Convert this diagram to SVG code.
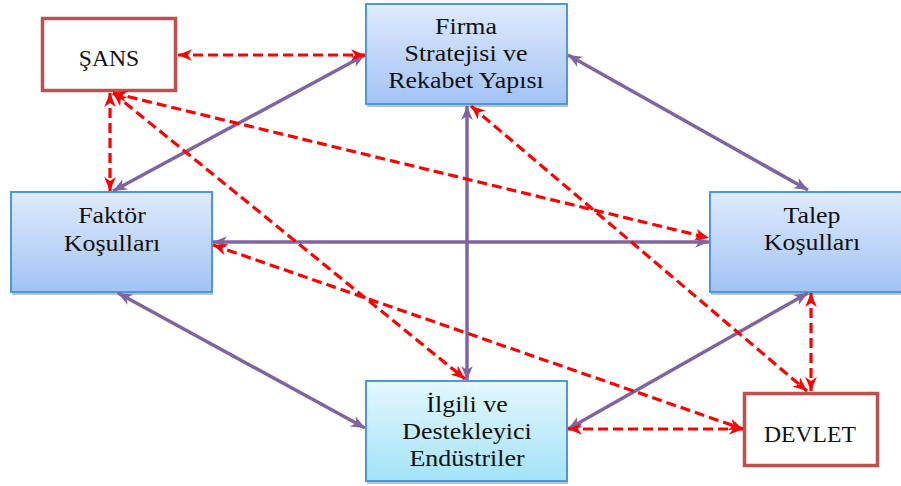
<svg xmlns="http://www.w3.org/2000/svg" width="901" height="486" viewBox="0 0 901 486">
<defs>
<linearGradient id="gBlue" x1="0" y1="0" x2="0" y2="1">
<stop offset="0" stop-color="#dfeafc"/>
<stop offset="1" stop-color="#a2c3f5"/>
</linearGradient>
<linearGradient id="gCyan" x1="0" y1="0" x2="0" y2="1">
<stop offset="0" stop-color="#e4f7fd"/>
<stop offset="1" stop-color="#a3e3f8"/>
</linearGradient>
<marker id="mP" viewBox="0 0 12 10" refX="12" refY="5" markerWidth="14" markerHeight="12" markerUnits="userSpaceOnUse" orient="auto-start-reverse">
<path d="M0,0 L12,5 L0,10 L3.5,5 z" fill="#8064a2"/>
</marker>
<marker id="mR" viewBox="0 0 12 10" refX="12" refY="5" markerWidth="14" markerHeight="12" markerUnits="userSpaceOnUse" orient="auto-start-reverse">
<path d="M0,0 L12,5 L0,10 L3.5,5 z" fill="#ff0000"/>
</marker>
</defs>
<style>
.shadow{fill:#8c8c8c;opacity:0.55}
.blue{fill:url(#gBlue);stroke:#4a9ad8;stroke-width:2}
.cyan{fill:url(#gCyan);stroke:#4a9ad8;stroke-width:2}
.red{fill:#ffffff;stroke:#c0504d;stroke-width:3.5}
.t{font-family:"Liberation Serif","Times New Roman",serif;font-size:24px;fill:#111111;text-anchor:middle;transform-box:fill-box;transform-origin:center;transform:scaleX(1.08)}
.ts{font-family:"Liberation Serif","Times New Roman",serif;font-size:23px;fill:#111111;text-anchor:middle;transform-box:fill-box;transform-origin:center;transform:scaleX(1.03)}
.p{stroke:#8064a2;stroke-width:3.5;fill:none;marker-start:url(#mP);marker-end:url(#mP)}
.r{stroke:#ff0000;stroke-width:3.2;fill:none;stroke-dasharray:10 5;marker-start:url(#mR);marker-end:url(#mR)}
</style>
<rect width="901" height="486" fill="#ffffff"/>

<g id="sans">
<rect class="red" x="42.5" y="18.5" width="133" height="72"/>
<text class="ts" x="109" y="66">ŞANS</text>
</g>

<g id="firma">
<rect class="shadow" x="367" y="7" width="201" height="100"/>
<rect class="blue" x="366" y="4" width="201" height="100"/>
<text class="t" x="466" y="34">Firma</text>
<text class="t" x="466" y="61">Stratejisi ve</text>
<text class="t" x="466" y="88">Rekabet Yapısı</text>
</g>

<g id="faktor">
<rect class="shadow" x="12" y="195" width="201" height="100"/>
<rect class="blue" x="11" y="192" width="201" height="100"/>
<text class="t" x="112" y="223">Faktör</text>
<text class="t" x="112" y="251">Koşulları</text>
</g>

<g id="talep">
<rect class="shadow" x="711" y="195" width="201" height="100"/>
<rect class="blue" x="710" y="192" width="201" height="100"/>
<text class="t" x="812" y="223">Talep</text>
<text class="t" x="812" y="250">Koşulları</text>
</g>

<g id="ilgili">
<rect class="shadow" x="367" y="384" width="201" height="100"/>
<rect class="cyan" x="366" y="381" width="201" height="100"/>
<text class="t" x="467" y="412">İlgili ve</text>
<text class="t" x="467" y="439">Destekleyici</text>
<text class="t" x="467" y="466">Endüstriler</text>
</g>

<g id="devlet">
<rect class="red" x="744.5" y="393.5" width="133" height="72"/>
<text class="ts" x="810" y="442">DEVLET</text>
</g>

<g id="connectors">
<line class="p" x1="113" y1="191" x2="365" y2="55"/>
<line class="p" x1="568" y1="55" x2="808" y2="190"/>
<line class="p" x1="467" y1="106" x2="467" y2="380"/>
<line class="p" x1="213" y1="242" x2="709" y2="242"/>
<line class="p" x1="118" y1="293" x2="365" y2="428"/>
<line class="p" x1="808" y1="293" x2="568" y2="429"/>

<line class="r" x1="178" y1="55" x2="365" y2="55"/>
<line class="r" x1="110" y1="93" x2="110" y2="191"/>
<line class="r" x1="113" y1="93" x2="709" y2="238"/>
<line class="r" x1="113" y1="93" x2="465" y2="379"/>
<line class="r" x1="471" y1="106" x2="807" y2="391"/>
<line class="r" x1="213" y1="245" x2="743" y2="429"/>
<line class="r" x1="811" y1="293" x2="811" y2="391"/>
<line class="r" x1="568" y1="429" x2="743" y2="429"/>
</g>
</svg>
